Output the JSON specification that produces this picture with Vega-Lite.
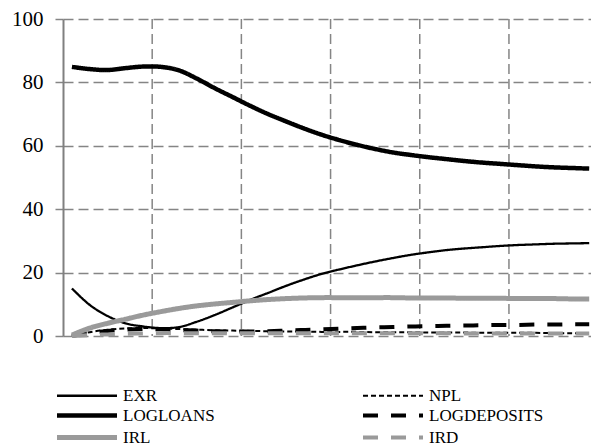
{
  "$schema": "https://vega.github.io/schema/vega-lite/v6.json",
  "autosize": {"type": "none"},
  "width": 528,
  "height": 317,
  "padding": {"left": 63, "top": 19, "right": 0, "bottom": 109},
  "background": "white",
  "config": {
    "view": {"stroke": null},
    "font": "Liberation Serif",
    "legend": {
      "labelFont": "Liberation Serif",
      "labelFontSize": 17,
      "labelColor": "black",
      "symbolType": "M-6,0H6",
      "symbolSize": 100,
      "labelOffset": 27.5,
      "padding": 0,
      "rowPadding": 2,
      "columnPadding": 139
    }
  },
  "layer": [
    {
      "data": {"values": [{"gx": 5.5}, {"gx": 10.5}, {"gx": 15.5}, {"gx": 20.5}, {"gx": 25.5}]},
      "mark": {"type": "rule", "color": "#858585", "strokeWidth": 1.5, "strokeDash": [10, 5]},
      "encoding": {
        "x": {"field": "gx", "type": "quantitative", "scale": {"domain": [0.5, 30.1], "nice": false, "zero": false}, "axis": null}
      }
    },
    {
      "data": {"values": [
        {"x":1,"series":"EXR","v":15.0},{"x":2,"series":"EXR","v":9.8},{"x":3,"series":"EXR","v":6.3},{"x":4,"series":"EXR","v":4.0},{"x":5,"series":"EXR","v":3.0},{"x":6,"series":"EXR","v":2.5},{"x":7,"series":"EXR","v":2.8},{"x":8,"series":"EXR","v":4.5},{"x":9,"series":"EXR","v":6.6},{"x":10,"series":"EXR","v":9.0},{"x":11,"series":"EXR","v":11.4},{"x":12,"series":"EXR","v":13.6},{"x":13,"series":"EXR","v":15.8},{"x":14,"series":"EXR","v":17.8},{"x":15,"series":"EXR","v":19.6},{"x":16,"series":"EXR","v":21.0},{"x":17,"series":"EXR","v":22.3},{"x":18,"series":"EXR","v":23.5},{"x":19,"series":"EXR","v":24.6},{"x":20,"series":"EXR","v":25.6},{"x":21,"series":"EXR","v":26.4},{"x":22,"series":"EXR","v":27.1},{"x":23,"series":"EXR","v":27.6},{"x":24,"series":"EXR","v":28.0},{"x":25,"series":"EXR","v":28.4},{"x":26,"series":"EXR","v":28.7},{"x":27,"series":"EXR","v":28.9},{"x":28,"series":"EXR","v":29.1},{"x":29,"series":"EXR","v":29.2},{"x":30,"series":"EXR","v":29.3},
        {"x":1,"series":"NPL","v":0.0},{"x":2,"series":"NPL","v":1.2},{"x":3,"series":"NPL","v":2.0},{"x":4,"series":"NPL","v":2.4},{"x":5,"series":"NPL","v":2.5},{"x":6,"series":"NPL","v":2.4},{"x":7,"series":"NPL","v":2.2},{"x":8,"series":"NPL","v":2.0},{"x":9,"series":"NPL","v":1.8},{"x":10,"series":"NPL","v":1.7},{"x":11,"series":"NPL","v":1.6},{"x":12,"series":"NPL","v":1.5},{"x":13,"series":"NPL","v":1.4},{"x":14,"series":"NPL","v":1.4},{"x":15,"series":"NPL","v":1.3},{"x":16,"series":"NPL","v":1.3},{"x":17,"series":"NPL","v":1.3},{"x":18,"series":"NPL","v":1.2},{"x":19,"series":"NPL","v":1.2},{"x":20,"series":"NPL","v":1.2},{"x":21,"series":"NPL","v":1.1},{"x":22,"series":"NPL","v":1.1},{"x":23,"series":"NPL","v":1.1},{"x":24,"series":"NPL","v":1.0},{"x":25,"series":"NPL","v":1.0},{"x":26,"series":"NPL","v":1.0},{"x":27,"series":"NPL","v":1.0},{"x":28,"series":"NPL","v":0.9},{"x":29,"series":"NPL","v":0.9},{"x":30,"series":"NPL","v":0.9},
        {"x":1,"series":"LOGLOANS","v":84.9},{"x":2,"series":"LOGLOANS","v":84.2},{"x":3,"series":"LOGLOANS","v":83.9},{"x":4,"series":"LOGLOANS","v":84.5},{"x":5,"series":"LOGLOANS","v":85.0},{"x":6,"series":"LOGLOANS","v":84.9},{"x":7,"series":"LOGLOANS","v":83.8},{"x":8,"series":"LOGLOANS","v":81.2},{"x":9,"series":"LOGLOANS","v":78.2},{"x":10,"series":"LOGLOANS","v":75.4},{"x":11,"series":"LOGLOANS","v":72.6},{"x":12,"series":"LOGLOANS","v":70.0},{"x":13,"series":"LOGLOANS","v":67.7},{"x":14,"series":"LOGLOANS","v":65.5},{"x":15,"series":"LOGLOANS","v":63.5},{"x":16,"series":"LOGLOANS","v":61.8},{"x":17,"series":"LOGLOANS","v":60.3},{"x":18,"series":"LOGLOANS","v":59.0},{"x":19,"series":"LOGLOANS","v":57.9},{"x":20,"series":"LOGLOANS","v":57.1},{"x":21,"series":"LOGLOANS","v":56.4},{"x":22,"series":"LOGLOANS","v":55.8},{"x":23,"series":"LOGLOANS","v":55.2},{"x":24,"series":"LOGLOANS","v":54.7},{"x":25,"series":"LOGLOANS","v":54.3},{"x":26,"series":"LOGLOANS","v":53.9},{"x":27,"series":"LOGLOANS","v":53.5},{"x":28,"series":"LOGLOANS","v":53.2},{"x":29,"series":"LOGLOANS","v":53.0},{"x":30,"series":"LOGLOANS","v":52.8},
        {"x":1,"series":"LOGDEPOSITS","v":0.0},{"x":2,"series":"LOGDEPOSITS","v":1.0},{"x":3,"series":"LOGDEPOSITS","v":1.6},{"x":4,"series":"LOGDEPOSITS","v":2.0},{"x":5,"series":"LOGDEPOSITS","v":2.2},{"x":6,"series":"LOGDEPOSITS","v":2.1},{"x":7,"series":"LOGDEPOSITS","v":1.9},{"x":8,"series":"LOGDEPOSITS","v":1.7},{"x":9,"series":"LOGDEPOSITS","v":1.5},{"x":10,"series":"LOGDEPOSITS","v":1.4},{"x":11,"series":"LOGDEPOSITS","v":1.4},{"x":12,"series":"LOGDEPOSITS","v":1.5},{"x":13,"series":"LOGDEPOSITS","v":1.7},{"x":14,"series":"LOGDEPOSITS","v":1.9},{"x":15,"series":"LOGDEPOSITS","v":2.1},{"x":16,"series":"LOGDEPOSITS","v":2.3},{"x":17,"series":"LOGDEPOSITS","v":2.5},{"x":18,"series":"LOGDEPOSITS","v":2.7},{"x":19,"series":"LOGDEPOSITS","v":2.8},{"x":20,"series":"LOGDEPOSITS","v":3.0},{"x":21,"series":"LOGDEPOSITS","v":3.1},{"x":22,"series":"LOGDEPOSITS","v":3.2},{"x":23,"series":"LOGDEPOSITS","v":3.3},{"x":24,"series":"LOGDEPOSITS","v":3.4},{"x":25,"series":"LOGDEPOSITS","v":3.5},{"x":26,"series":"LOGDEPOSITS","v":3.5},{"x":27,"series":"LOGDEPOSITS","v":3.6},{"x":28,"series":"LOGDEPOSITS","v":3.6},{"x":29,"series":"LOGDEPOSITS","v":3.7},{"x":30,"series":"LOGDEPOSITS","v":3.7},
        {"x":1,"series":"IRL","v":0.3},{"x":2,"series":"IRL","v":2.5},{"x":3,"series":"IRL","v":4.0},{"x":4,"series":"IRL","v":5.3},{"x":5,"series":"IRL","v":6.6},{"x":6,"series":"IRL","v":7.7},{"x":7,"series":"IRL","v":8.7},{"x":8,"series":"IRL","v":9.5},{"x":9,"series":"IRL","v":10.1},{"x":10,"series":"IRL","v":10.6},{"x":11,"series":"IRL","v":11.1},{"x":12,"series":"IRL","v":11.5},{"x":13,"series":"IRL","v":11.8},{"x":14,"series":"IRL","v":12.0},{"x":15,"series":"IRL","v":12.1},{"x":16,"series":"IRL","v":12.1},{"x":17,"series":"IRL","v":12.1},{"x":18,"series":"IRL","v":12.1},{"x":19,"series":"IRL","v":12.1},{"x":20,"series":"IRL","v":12.0},{"x":21,"series":"IRL","v":12.0},{"x":22,"series":"IRL","v":12.0},{"x":23,"series":"IRL","v":11.9},{"x":24,"series":"IRL","v":11.9},{"x":25,"series":"IRL","v":11.9},{"x":26,"series":"IRL","v":11.8},{"x":27,"series":"IRL","v":11.8},{"x":28,"series":"IRL","v":11.8},{"x":29,"series":"IRL","v":11.7},{"x":30,"series":"IRL","v":11.7},
        {"x":1,"series":"IRD","v":0.0},{"x":2,"series":"IRD","v":0.3},{"x":3,"series":"IRD","v":0.5},{"x":4,"series":"IRD","v":0.7},{"x":5,"series":"IRD","v":0.8},{"x":6,"series":"IRD","v":0.9},{"x":7,"series":"IRD","v":0.9},{"x":8,"series":"IRD","v":0.9},{"x":9,"series":"IRD","v":0.9},{"x":10,"series":"IRD","v":0.9},{"x":11,"series":"IRD","v":0.9},{"x":12,"series":"IRD","v":0.9},{"x":13,"series":"IRD","v":0.9},{"x":14,"series":"IRD","v":0.9},{"x":15,"series":"IRD","v":0.9},{"x":16,"series":"IRD","v":0.9},{"x":17,"series":"IRD","v":0.9},{"x":18,"series":"IRD","v":0.9},{"x":19,"series":"IRD","v":0.9},{"x":20,"series":"IRD","v":0.9},{"x":21,"series":"IRD","v":0.9},{"x":22,"series":"IRD","v":0.9},{"x":23,"series":"IRD","v":0.8},{"x":24,"series":"IRD","v":0.8},{"x":25,"series":"IRD","v":0.8},{"x":26,"series":"IRD","v":0.8},{"x":27,"series":"IRD","v":0.8},{"x":28,"series":"IRD","v":0.8},{"x":29,"series":"IRD","v":0.8},{"x":30,"series":"IRD","v":0.8}
      ]},
      "mark": {"type": "line", "interpolate": "catmull-rom", "strokeCap": "butt"},
      "encoding": {
        "x": {
          "field": "x", "type": "quantitative",
          "scale": {"domain": [0.5, 30.1], "nice": false, "zero": false},
          "axis": {
            "title": null, "values": [1, 5, 9, 13, 17, 21, 25, 29], "grid": false, "ticks": false,
            "domainColor": "#808080", "domainWidth": 2,
            "labelFont": "Liberation Serif", "labelFontSize": 20, "labelColor": "black", "labelPadding": 12
          }
        },
        "y": {
          "field": "v", "type": "quantitative",
          "scale": {"domain": [0, 100], "nice": false},
          "axis": {
            "title": null, "values": [0, 20, 40, 60, 80, 100],
            "grid": true, "gridColor": "#858585", "gridWidth": 1.5, "gridDash": [10, 5], "gridOpacity": 1,
            "ticks": true, "tickSize": 8, "tickColor": "#858585", "tickWidth": 1.5,
            "domainColor": "#808080", "domainWidth": 2,
            "labelFont": "Liberation Serif", "labelFontSize": 21, "labelColor": "black", "labelPadding": 12
          }
        },
        "color": {
          "field": "series", "type": "nominal",
          "scale": {"type": "ordinal", "domain": ["EXR", "LOGLOANS", "IRL", "NPL", "LOGDEPOSITS", "IRD"], "range": ["black", "black", "#9a9a9a", "black", "black", "#9a9a9a"]},
          "legend": {"title": null, "orient": "none", "legendX": 15.5, "legendY": 368, "columns": 2, "direction": "vertical"}
        },
        "strokeDash": {
          "field": "series", "type": "nominal",
          "scale": {"type": "ordinal", "domain": ["EXR", "LOGLOANS", "IRL", "NPL", "LOGDEPOSITS", "IRD"], "range": [[1, 0], [1, 0], [1, 0], [5, 3], [15, 13], [15, 13]]},
          "legend": {"title": null, "orient": "none", "legendX": 15.5, "legendY": 368, "columns": 2, "direction": "vertical"}
        },
        "strokeWidth": {
          "field": "series", "type": "nominal",
          "scale": {"type": "ordinal", "domain": ["EXR", "LOGLOANS", "IRL", "NPL", "LOGDEPOSITS", "IRD"], "range": [2.3, 4.5, 5, 2, 4, 4]},
          "legend": {"title": null, "orient": "none", "legendX": 15.5, "legendY": 368, "columns": 2, "direction": "vertical"}
        }
      }
    }
  ]
}
